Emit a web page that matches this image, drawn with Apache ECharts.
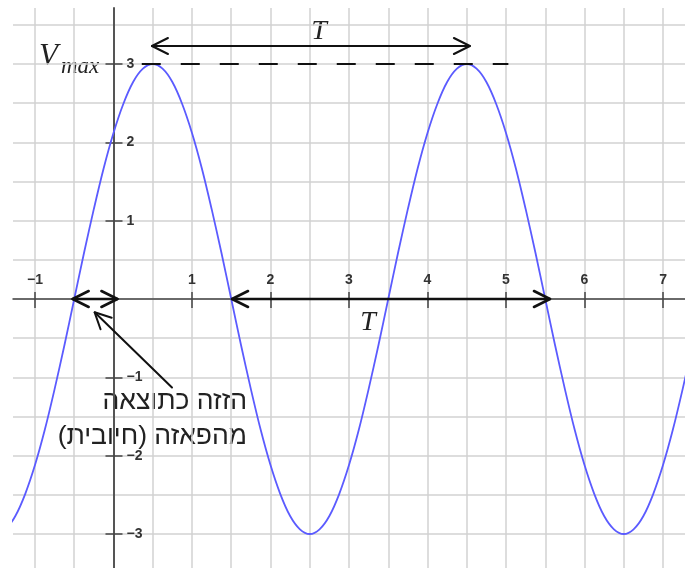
<!DOCTYPE html>
<html>
<head>
<meta charset="utf-8">
<script src="https://cdn.jsdelivr.net/npm/echarts@6/dist/echarts.min.js"></script>
<style>
  html, body { margin: 0; padding: 0; background: #fff; }
  #chart { width: 685px; height: 568px; }
</style>
</head>
<body>
<div id="chart"></div>
<script>
// wave, x step 0.125
const waveX = [
  -1.5, -1.375, -1.25, -1.125, -1, -0.875, -0.75, -0.625, -0.5, -0.375, -0.25, -0.125,
  0, 0.125, 0.25, 0.375, 0.5, 0.625, 0.75, 0.875, 1, 1.125, 1.25, 1.375,
  1.5, 1.625, 1.75, 1.875, 2, 2.125, 2.25, 2.375, 2.5, 2.625, 2.75, 2.875,
  3, 3.125, 3.25, 3.375, 3.5, 3.625, 3.75, 3.875, 4, 4.125, 4.25, 4.375,
  4.5, 4.625, 4.75, 4.875, 5, 5.125, 5.25, 5.375, 5.5, 5.625, 5.75, 5.875,
  6, 6.125, 6.25, 6.375, 6.5, 6.625, 6.75, 6.875, 7, 7.125, 7.25, 7.375, 7.5
];
const waveY = [
  -3, -2.94, -2.77, -2.49, -2.12, -1.67, -1.15, -0.59, 0, 0.59, 1.15, 1.67,
  2.12, 2.49, 2.77, 2.94, 3, 2.94, 2.77, 2.49, 2.12, 1.67, 1.15, 0.59,
  0, -0.59, -1.15, -1.67, -2.12, -2.49, -2.77, -2.94, -3, -2.94, -2.77, -2.49,
  -2.12, -1.67, -1.15, -0.59, 0, 0.59, 1.15, 1.67, 2.12, 2.49, 2.77, 2.94,
  3, 2.94, 2.77, 2.49, 2.12, 1.67, 1.15, 0.59, 0, -0.59, -1.15, -1.67,
  -2.12, -2.49, -2.77, -2.94, -3, -2.94, -2.77, -2.49, -2.12, -1.67, -1.15, -0.59, 0
];

// tick labels
const xTicks = [-1, 1, 2, 3, 4, 5, 6, 7];
const yTicks = [-3, -2, -1, 1, 2, 3];

// annotations
const vmaxLine = [[0.36, 3], [5.03, 3]];
const periodTopArrow = [[0.49, 3.23], [4.54, 3.23]];
const periodAxisArrow = [[1.51, 0], [5.56, 0]];
const phaseArrow = [[-0.52, 0], [0.05, 0]];
const pointerArrow = [[0.745, -1.13], [-0.24, -0.17]];

const hebrewLine1 = "הזזה כתוצאה";
const hebrewLine2 = "\u200Fמהפאזה (חיובית)\u200F";

const xMin = -1.28, xMax = 7.28;
const yMin = -3.434, yMax = 3.715;

// grid box in px; axes sit on zero via offset
const gridLeft = 13, gridTop = 8, W = 685, H = 568;
const xPerUnit = (W - gridLeft) / (xMax - xMin);
const yPerUnit = (H - gridTop) / (yMax - yMin);
const yAxisOffset = xMin * xPerUnit;   // negative: move y axis right to x = 0
const xAxisOffset = yMin * yPerUnit;   // negative: move x axis up to y = 0

const arrows = [
  { pts: periodTopArrow, heads: [1, 1], width: 2 },
  { pts: periodAxisArrow, heads: [1, 1], width: 2.6 },
  { pts: phaseArrow, heads: [1, 1], width: 2.6 },
  { pts: pointerArrow, heads: [0, 1], width: 2 }
];

const fmtNum = (v) => (v < 0 ? "\u2212" + Math.abs(v) : String(v));

const chart = echarts.init(document.getElementById("chart"));

const labelStyle = {
  fontFamily: "Liberation Sans",
  fontWeight: "bold",
  fontSize: 14,
  color: "#333"
};
const tickLine = { color: "#444", width: 1.5 };
const gridLine = { color: "#d2d2d2", width: 1.5 };

// 0: half-unit grid lines, 1: axis line + inner ticks + labels, 2: outer ticks
function makeAxes(pos, offset, min, max, ticks, innerLen, outerLen, lineColor, lineWidth, extraLabel) {
  return [
    {
      type: "value", position: pos, min: min, max: max, minInterval: 0.5, maxInterval: 0.5,
      axisLine: { show: false, onZero: false },
      axisTick: { show: false },
      axisLabel: { show: false },
      splitLine: { show: true, showMinLine: false, showMaxLine: false, lineStyle: gridLine }
    },
    {
      type: "value", position: pos, offset: offset, min: min, max: max,
      axisLine: { show: true, onZero: false, lineStyle: { color: lineColor, width: lineWidth } },
      axisTick: { show: true, inside: true, length: innerLen, customValues: ticks, lineStyle: tickLine },
      axisLabel: Object.assign({ show: true, inside: true, customValues: ticks, formatter: fmtNum }, labelStyle, extraLabel),
      splitLine: { show: false }
    },
    {
      type: "value", position: pos, offset: offset, min: min, max: max,
      axisLine: { show: false, onZero: false },
      axisTick: { show: true, inside: false, length: outerLen, customValues: ticks, lineStyle: tickLine },
      axisLabel: { show: false },
      splitLine: { show: false }
    }
  ];
}

const option = {
  animation: false,
  grid: { left: gridLeft, right: 0, top: gridTop, bottom: 0, containLabel: false, outerBoundsMode: "none" },
  xAxis: makeAxes("bottom", xAxisOffset, xMin, xMax, xTicks, 7, 9, "#444", 1.5, { margin: 12 }),
  yAxis: makeAxes("left", yAxisOffset, yMin, yMax, yTicks, 9, 8, "#555", 2, { margin: 13, align: "left" }),
  series: [
    {
      name: "wave",
      type: "line",
      data: waveX.map((x, i) => [x, waveY[i]]),
      smooth: 0.3,
      showSymbol: false,
      lineStyle: { color: "#5b5bff", width: 1.8 },
      z: 3
    },
    {
      name: "vmax",
      type: "line",
      data: vmaxLine,
      showSymbol: false,
      silent: true,
      lineStyle: { color: "#111", width: 2, type: [19, 20] },
      z: 4
    },
    {
      name: "arrows",
      type: "custom",
      data: arrows.map((a) => [a.pts[0][0], a.pts[0][1], a.pts[1][0], a.pts[1][1]]),
      encode: { x: [0, 2], y: [1, 3] },
      z: 5,
      renderItem: function (params, api) {
        const a = api.coord([api.value(0), api.value(1)]);
        const b = api.coord([api.value(2), api.value(3)]);
        const spec = arrows[params.dataIndex];
        const stroke = "#111";
        const head = function (tip, from) {
          const dx = from[0] - tip[0], dy = from[1] - tip[1];
          const len = Math.hypot(dx, dy);
          const ux = dx / len, uy = dy / len;
          const L = 16, HW = 8;
          return {
            type: "polyline",
            shape: { points: [[tip[0] + ux * L - uy * HW, tip[1] + uy * L + ux * HW], tip, [tip[0] + ux * L + uy * HW, tip[1] + uy * L - ux * HW]] },
            style: { stroke: stroke, lineWidth: spec.width, fill: "none", lineCap: "round", lineJoin: "round" }
          };
        };
        const children = [{
          type: "line",
          shape: { x1: a[0], y1: a[1], x2: b[0], y2: b[1] },
          style: { stroke: stroke, lineWidth: spec.width, lineCap: "round" }
        }];
        if (spec.heads[0]) children.push(head(a, b));
        if (spec.heads[1]) children.push(head(b, a));
        return { type: "group", children: children };
      }
    }
  ],
  graphic: [
    { type: "text", style: { text: "V", x: 39, y: 57, font: "italic 31px 'Liberation Serif'", fill: "#222", verticalAlign: "middle" } },
    { type: "text", style: { text: "max", x: 61, y: 67, font: "italic 23px 'Liberation Serif'", fill: "#222", verticalAlign: "middle" } },
    { type: "text", style: { text: "T", x: 319, y: 32, font: "italic 28px 'Liberation Serif'", fill: "#222", align: "center", verticalAlign: "middle" } },
    { type: "text", style: { text: "T", x: 368, y: 323, font: "italic 28px 'Liberation Serif'", fill: "#222", align: "center", verticalAlign: "middle" } },
    { type: "text", style: { text: hebrewLine1, x: 247, y: 402, font: "26.5px 'Liberation Sans'", fill: "#222", align: "right", verticalAlign: "middle" } },
    { type: "text", style: { text: hebrewLine2, x: 247, y: 437, font: "26.5px 'Liberation Sans'", fill: "#222", align: "right", verticalAlign: "middle" } }
  ]
};

chart.setOption(option);
</script>
</body>
</html>
